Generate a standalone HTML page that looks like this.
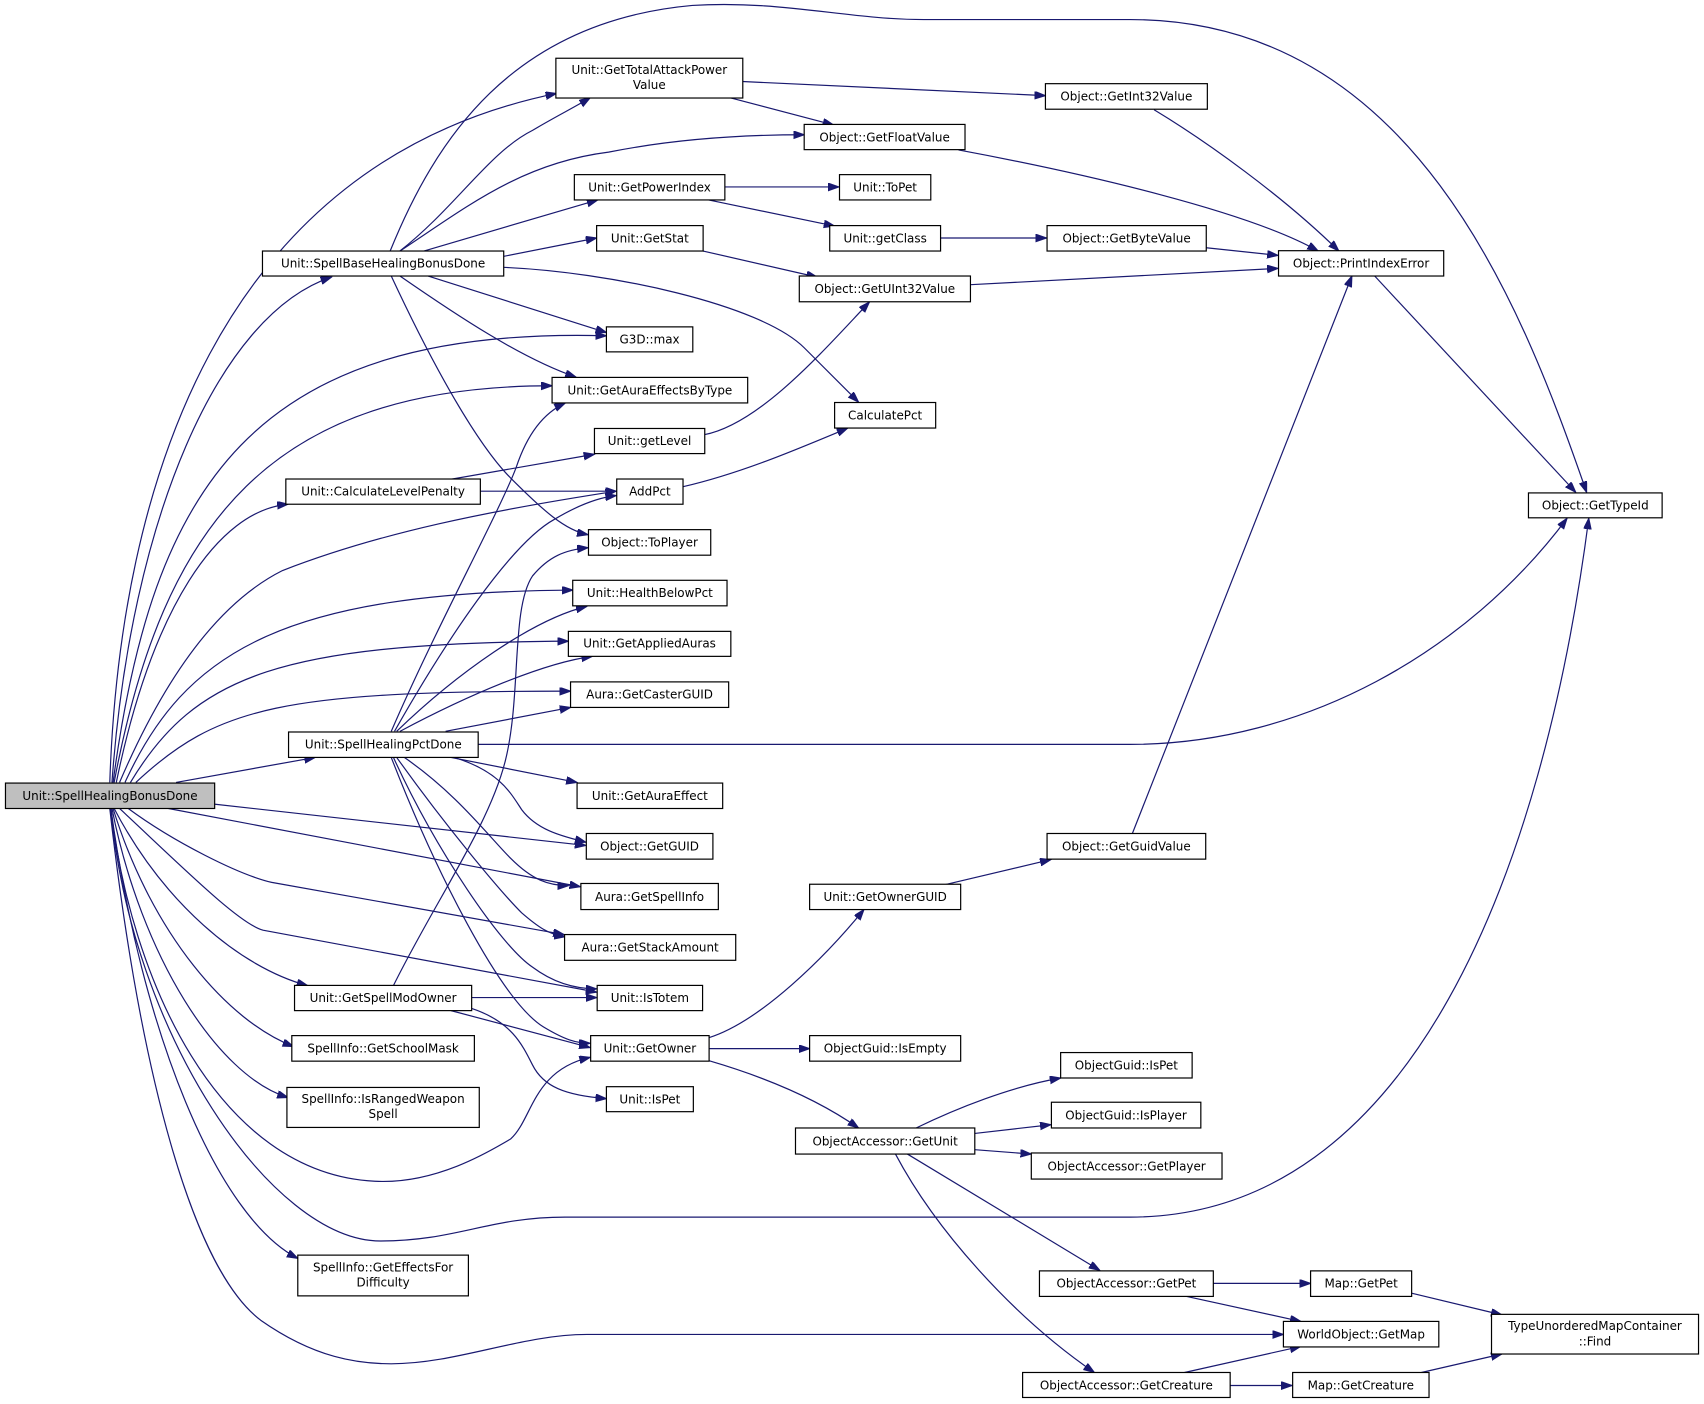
<!DOCTYPE html>
<html><head><meta charset="utf-8"><style>
html,body{margin:0;padding:0;background:#fff;}
svg{display:block;}
text{font-family:"DejaVu Sans","Liberation Sans",sans-serif;font-size:11px;fill:#000;text-anchor:middle;}
.e{fill:none;stroke:#191970;stroke-width:1.1;marker-end:url(#a);}
.n{fill:#fff;stroke:#000;stroke-width:1.1;}
</style></head><body>
<svg width="1704" height="1404" viewBox="0 0 1568 1292" xmlns="http://www.w3.org/2000/svg">
<defs><marker id="a" markerUnits="userSpaceOnUse" markerWidth="11" markerHeight="8" refX="10" refY="3.5" orient="auto"><path d="M0,0 L10,3.5 L0,7 z" fill="#191970" stroke="#191970"/></marker></defs>
<g>
<!-- SHBD edges -->
<path class="e" d="M101,720 C110,450 200,150 512,86"/>
<path class="e" d="M103,720 C120,480 200,290 305,255"/>
<path class="e" d="M104,720 C140,450 230,300 558,309"/>
<path class="e" d="M105,720 C150,480 250,355 508,355"/>
<path class="e" d="M107,720 C140,560 200,470 265,464"/>
<path class="e" d="M110,720 C170,580 230,540 260,525 C350,490 450,470 567,452"/>
<path class="e" d="M115,720 C170,600 260,545 527,543"/>
<path class="e" d="M120,720 C180,620 260,592 523,590"/>
<path class="e" d="M125,720 C200,650 260,636 525,636"/>
<path class="e" d="M162,720 L290,697"/>
<path class="e" d="M197,740 L539,778"/>
<path class="e" d="M155,744 L534,816"/>
<path class="e" d="M118,744 C160,775 220,805 250,812 L519,860"/>
<path class="e" d="M110,744 C170,800 220,850 242,856 L549,913"/>
<path class="e" d="M105,744 C150,830 220,890 283,907"/>
<path class="e" d="M104,744 C140,860 210,940 270,963"/>
<path class="e" d="M103,744 C130,880 200,990 265,1010"/>
<path class="e" d="M102,744 C120,900 200,1080 345,1087 C400,1090 450,1060 470,1048 C490,1030 490,985 543,973"/>
<path class="e" d="M102,744 C120,950 250,1142 350,1142 C420,1142 450,1120 520,1120 L1040,1120 C1300,1120 1420,800 1462,477"/>
<path class="e" d="M102,744 C130,950 200,1120 274,1158"/>
<path class="e" d="M101,744 C130,1000 180,1170 240,1215 C290,1250 330,1255 360,1255 C420,1255 480,1228 540,1228 L1181,1228"/>
<!-- SBHBD edges -->
<path class="e" d="M359,231 C400,130 470,20 637,5 C720,0 780,18 850,18 L1040,18 C1300,18 1400,280 1460,453"/>
<path class="e" d="M368,231 C420,190 450,140 490,120 C510,108 530,98 543,90"/>
<path class="e" d="M368,231 C430,190 480,150 560,140 C620,128 680,124 740,124"/>
<path class="e" d="M390,231 L550,184"/>
<path class="e" d="M463,236 L549,219"/>
<path class="e" d="M463,246 C560,250 700,280 740,320 C760,340 780,360 790,370"/>
<path class="e" d="M394,254 L558,306"/>
<path class="e" d="M368,254 C420,290 480,330 530,347"/>
<path class="e" d="M360,254 C400,340 440,410 470,440 C500,470 520,488 541,492"/>
<!-- misc -->
<path class="e" d="M683,75 L962,88"/>
<path class="e" d="M672,90 L767,115"/>
<path class="e" d="M667,172 L772,172"/>
<path class="e" d="M652,184 L768,208"/>
<path class="e" d="M865,219 L963,219"/>
<path class="e" d="M647,231 L752,255"/>
<path class="e" d="M893,262 L1176,247"/>
<path class="e" d="M1110,228 L1176,235"/>
<path class="e" d="M882,138 C1000,160 1150,195 1213,231"/>
<path class="e" d="M1062,101 C1110,130 1180,180 1232,231"/>
<path class="e" d="M1265,254 L1450,453"/>
<path class="e" d="M648,400 C700,390 760,320 800,278"/>
<path class="e" d="M415,441 L547,418"/>
<path class="e" d="M442,452 L567,452"/>
<path class="e" d="M628,448 C680,436 730,415 780,394"/>
<!-- SHPD edges -->
<path class="e" d="M360,673 C400,580 460,470 475,430 C485,400 500,380 520,371"/>
<path class="e" d="M363,673 C410,590 470,500 510,478 C530,466 550,458 567,456"/>
<path class="e" d="M365,673 C420,620 490,570 540,558"/>
<path class="e" d="M368,673 C430,640 500,610 545,604"/>
<path class="e" d="M410,673 L525,651"/>
<path class="e" d="M440,685 L1040,685 C1200,685 1350,600 1442,477"/>
<path class="e" d="M415,697 L531,720"/>
<path class="e" d="M418,697 C460,710 470,730 480,745 C495,765 520,770 539,775"/>
<path class="e" d="M372,697 C420,730 450,770 470,790 C490,810 505,815 523,815"/>
<path class="e" d="M365,697 C410,760 460,820 480,840 C495,853 505,860 520,862"/>
<path class="e" d="M362,697 C400,780 460,870 490,890 C510,905 530,910 549,910"/>
<path class="e" d="M360,697 C400,800 460,920 500,945 C520,957 530,960 543,960"/>
<!-- GetSpellModOwner -->
<path class="e" d="M362,907 C400,830 450,760 465,700 C480,640 470,560 490,530 C505,512 520,506 541,504"/>
<path class="e" d="M434,918 L549,918"/>
<path class="e" d="M415,930 L543,964"/>
<path class="e" d="M434,928 C470,940 480,960 490,980 C500,1000 520,1008 558,1011"/>
<!-- GetOwner etc -->
<path class="e" d="M652,955 C700,940 760,880 795,837"/>
<path class="e" d="M652,965 L745,965"/>
<path class="e" d="M652,976 C700,990 750,1010 790,1038"/>
<path class="e" d="M870,814 L967,791"/>
<path class="e" d="M1042,767 L1244,254"/>
<path class="e" d="M843,1038 C880,1020 930,1000 976,992"/>
<path class="e" d="M897,1043 L967,1035"/>
<path class="e" d="M897,1058 L949,1062"/>
<path class="e" d="M835,1062 L1012,1169"/>
<path class="e" d="M824,1062 C860,1130 930,1210 1007,1263"/>
<path class="e" d="M1116,1181 L1206,1181"/>
<path class="e" d="M1092,1193 L1197,1216"/>
<path class="e" d="M1090,1263 L1197,1239"/>
<path class="e" d="M1132,1275 L1189,1275"/>
<path class="e" d="M1299,1190 L1382,1210"/>
<path class="e" d="M1308,1263 L1382,1246"/>
</g>
<g>
<rect class="n" x="511.5" y="53.6" width="172" height="36.6"/><text x="597.5" y="68">Unit::GetTotalAttackPower</text><text x="597.5" y="82">Value</text>
<rect class="n" x="740" y="114.5" width="148" height="23.2"/><text x="814" y="130">Object::GetFloatValue</text>
<rect class="n" x="528.5" y="160.7" width="138.5" height="23.3"/><text x="597.7" y="176">Unit::GetPowerIndex</text>
<rect class="n" x="772.5" y="160.7" width="84" height="23.3"/><text x="814.5" y="176">Unit::ToPet</text>
<rect class="n" x="763.5" y="207.6" width="102" height="23.4"/><text x="814.5" y="223">Unit::getClass</text>
<rect class="n" x="549" y="207.6" width="98" height="23.4"/><text x="598" y="223">Unit::GetStat</text>
<rect class="n" x="241.5" y="231" width="222" height="23"/><text x="352.5" y="246">Unit::SpellBaseHealingBonusDone</text>
<rect class="n" x="735.5" y="254" width="157.5" height="23.7"/><text x="814.2" y="269.5">Object::GetUInt32Value</text>
<rect class="n" x="558" y="300.8" width="79.5" height="23"/><text x="597.7" y="316">G3D::max</text>
<rect class="n" x="508" y="347.3" width="180" height="23.5"/><text x="598" y="363">Unit::GetAuraEffectsByType</text>
<rect class="n" x="768" y="370.4" width="93" height="23.5"/><text x="814.5" y="386">CalculatePct</text>
<rect class="n" x="547" y="394.3" width="101.5" height="23.1"/><text x="597.7" y="409.5">Unit::getLevel</text>
<rect class="n" x="263" y="440.8" width="179" height="23.2"/><text x="352.5" y="456">Unit::CalculateLevelPenalty</text>
<rect class="n" x="567.5" y="440.8" width="61" height="23.2"/><text x="598" y="456">AddPct</text>
<rect class="n" x="541.5" y="487.4" width="112.5" height="23.5"/><text x="597.7" y="503">Object::ToPlayer</text>
<rect class="n" x="527" y="534" width="142" height="23.5"/><text x="598" y="549.5">Unit::HealthBelowPct</text>
<rect class="n" x="523" y="581" width="149.5" height="23"/><text x="597.7" y="596">Unit::GetAppliedAuras</text>
<rect class="n" x="525" y="627.5" width="145.5" height="23.5"/><text x="597.7" y="643">Aura::GetCasterGUID</text>
<rect class="n" x="962" y="77" width="149" height="23.5"/><text x="1036.5" y="92.5">Object::GetInt32Value</text>
<rect class="n" x="963.5" y="207.6" width="146.5" height="23.4"/><text x="1036.7" y="223">Object::GetByteValue</text>
<rect class="n" x="1176.5" y="230.7" width="152" height="23.3"/><text x="1252.5" y="246">Object::PrintIndexError</text>
<rect class="n" x="1406.5" y="453.6" width="123" height="22.9"/><text x="1468" y="469">Object::GetTypeId</text>
<rect class="n" x="265.5" y="673.6" width="174.5" height="23.4"/><text x="352.7" y="689">Unit::SpellHealingPctDone</text>
<rect x="5" y="720.6" width="192.5" height="23.4" fill="#bfbfbf" stroke="#000" stroke-width="1.1"/><text x="101.2" y="736">Unit::SpellHealingBonusDone</text>
<rect class="n" x="531" y="720.6" width="134" height="23.4"/><text x="598" y="736">Unit::GetAuraEffect</text>
<rect class="n" x="539.5" y="767" width="116.5" height="23.6"/><text x="597.7" y="782.5">Object::GetGUID</text>
<rect class="n" x="534.5" y="813" width="126.5" height="24"/><text x="597.7" y="829">Aura::GetSpellInfo</text>
<rect class="n" x="519.5" y="860" width="157.5" height="23.7"/><text x="598.2" y="875.5">Aura::GetStackAmount</text>
<rect class="n" x="549.5" y="906.8" width="97" height="23.2"/><text x="598" y="922">Unit::IsTotem</text>
<rect class="n" x="271" y="906.8" width="163" height="23.2"/><text x="352.5" y="922">Unit::GetSpellModOwner</text>
<rect class="n" x="543.5" y="953" width="109" height="23.5"/><text x="598" y="968.5">Unit::GetOwner</text>
<rect class="n" x="268.5" y="953" width="168" height="23.5"/><text x="352.5" y="968.5">SpellInfo::GetSchoolMask</text>
<rect class="n" x="264" y="1000.7" width="177" height="36.8"/><text x="352.5" y="1015">SpellInfo::IsRangedWeapon</text><text x="352.5" y="1029">Spell</text>
<rect class="n" x="558" y="1000" width="80" height="23"/><text x="598" y="1015.5">Unit::IsPet</text>
<rect class="n" x="274" y="1155" width="157" height="37.5"/><text x="352.5" y="1170">SpellInfo::GetEffectsFor</text><text x="352.5" y="1184">Difficulty</text>
<rect class="n" x="745" y="953" width="139" height="23.5"/><text x="814.5" y="968.5">ObjectGuid::IsEmpty</text>
<rect class="n" x="732" y="1038" width="165" height="24"/><text x="814.5" y="1054">ObjectAccessor::GetUnit</text>
<rect class="n" x="745" y="813.7" width="139" height="23.3"/><text x="814.5" y="829">Unit::GetOwnerGUID</text>
<rect class="n" x="963.5" y="767" width="146" height="23.6"/><text x="1036.5" y="782.5">Object::GetGuidValue</text>
<rect class="n" x="976" y="968.6" width="121" height="23.4"/><text x="1036.5" y="984">ObjectGuid::IsPet</text>
<rect class="n" x="967.5" y="1014.3" width="137.5" height="23.7"/><text x="1036.2" y="1030">ObjectGuid::IsPlayer</text>
<rect class="n" x="949" y="1061" width="175.5" height="24"/><text x="1036.7" y="1077">ObjectAccessor::GetPlayer</text>
<rect class="n" x="956.5" y="1169.5" width="160" height="23.5"/><text x="1036.5" y="1185">ObjectAccessor::GetPet</text>
<rect class="n" x="1206" y="1169.5" width="93" height="23.5"/><text x="1252.5" y="1185">Map::GetPet</text>
<rect class="n" x="1181" y="1216" width="143" height="23.5"/><text x="1252.5" y="1231.5">WorldObject::GetMap</text>
<rect class="n" x="1372.5" y="1209.5" width="190.5" height="36.5"/><text x="1467.7" y="1224">TypeUnorderedMapContainer</text><text x="1467.7" y="1238">::Find</text>
<rect class="n" x="941" y="1263" width="191" height="23"/><text x="1036.5" y="1278.5">ObjectAccessor::GetCreature</text>
<rect class="n" x="1189.5" y="1263" width="125.5" height="23"/><text x="1252.2" y="1278.5">Map::GetCreature</text>
</g>
</svg>
</body></html>
